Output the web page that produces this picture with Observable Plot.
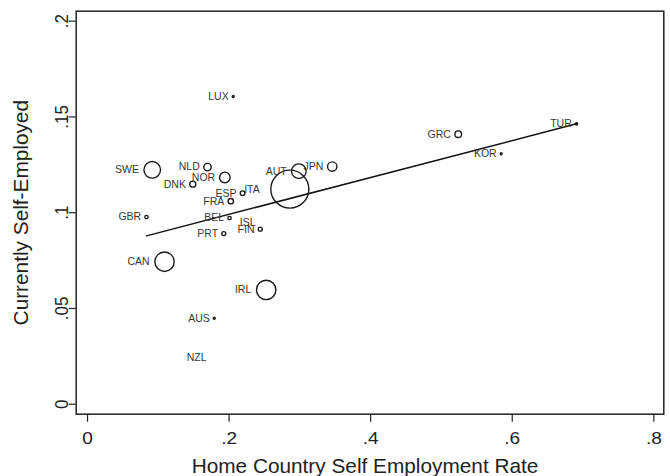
<!DOCTYPE html>
<html>
<head>
<meta charset="utf-8">
<script src="https://cdn.jsdelivr.net/npm/d3@7"></script>
<script src="https://cdn.jsdelivr.net/npm/@observablehq/plot@0.6"></script>
<style>
  html, body { margin: 0; padding: 0; background: #fff; }
  svg { display: block; }
</style>
</head>
<body>
<div id="chart"></div>
<script>
// ---- data ----
const countries = ["LUX","SWE","NLD","NOR","DNK","ESP","ITA","FRA","GBR","BEL","ISL","FIN","PRT","CAN","IRL","AUS","NZL","GRC","KOR","TUR","","AUT","JPN"];
const homeRate  = [0.2058,0.0914,0.1695,0.1940,0.1487,0.2190,0.2166,0.2024,0.0833,0.2006,0.2420,0.2440,0.1925,0.1088,0.2524,0.1790,0.1728,0.5237,0.5844,0.6908,0.2858,0.2985,0.3457];
const selfEmp   = [0.1607,0.1224,0.1238,0.1184,0.1149,0.1102,0.1122,0.1060,0.0977,0.0972,0.0950,0.0914,0.0891,0.0744,0.0597,0.0449,0.0244,0.1410,0.1308,0.1464,0.1123,0.1217,0.1241];
const weight    = [1,69,14,28,9,5.3,0,7.3,2.9,2.9,0,4,4,94,94,1,0,11,1,1.4,361,53,22];
const labelPos  = [9,9,9,9,9,9,3,9,9,9,9,9,9,9,9,9,9,9,9,9,9,9,9];

const fitX = [0.0833, 0.6908];
const fitY = [0.0879, 0.1464];

const xTicks = [0, 0.2, 0.4, 0.6, 0.8];
const yTicks = [0, 0.05, 0.1, 0.15, 0.2];
const xTitle = "Home Country Self Employment Rate";
const yTitle = "Currently Self-Employed";

// ---- build ----
const rows = countries.map((c, i) => ({c, x: homeRate[i], y: selfEmp[i], w: weight[i], pos: labelPos[i]}));
const fitRows = fitX.map((x, i) => ({x, y: fitY[i]}));
const fmt = d => d === 0 ? "0" : String(d).replace(/^0/, "");
const ink = "#222";

const labelMarks = rows.filter(d => d.c).map(d => {
  const r = Math.sqrt(d.w);
  const gap = 1.2 * r + 3.3;
  return Plot.text([d], {
    x: "x", y: "y", text: "c",
    dx: d.pos === 3 ? gap : -gap,
    textAnchor: d.pos === 3 ? "start" : "end",
    fontSize: 10.5, fill: "#383838"
  });
});

const chart = Plot.plot({
  width: 670, height: 476,
  marginLeft: 75.7, marginRight: 6.7, marginTop: 10.7, marginBottom: 62.3,
  style: {fontFamily: "'Liberation Sans', Arial, Helvetica, sans-serif", background: "#fff", color: ink},
  x: {domain: [-0.016, 0.8141]},
  y: {domain: [-0.0052, 0.2052]},
  r: {type: "sqrt", domain: [0, 400], range: [0, 20]},
  marks: [
    Plot.frame({stroke: ink, strokeWidth: 1.5}),
    Plot.axisX(xTicks, {tickFormat: fmt, tickSize: 8, tickPadding: 9.5, fontSize: 17, stroke: ink, strokeWidth: 1.2, fill: ink, label: null}),
    Plot.axisY(yTicks, {tickFormat: fmt, tickSize: 7, tickPadding: 1, tickRotate: -90, fontSize: 17, stroke: ink, strokeWidth: 1.2, fill: ink, label: null}),
    Plot.text([xTitle], {text: d => d, frameAnchor: "bottom", dx: -5, dy: 44, textAnchor: "middle", lineAnchor: "top", fontSize: 20.8, fill: ink}),
    Plot.text([yTitle], {text: d => d, frameAnchor: "left", rotate: -90, dx: -62.5, textAnchor: "middle", lineAnchor: "top", fontSize: 20.8, fill: ink}),
    Plot.line(fitRows, {x: "x", y: "y", stroke: "#111", strokeWidth: 1.5}),
    Plot.dot(rows, {x: "x", y: "y", r: "w", stroke: "#1a1a1a", strokeWidth: 1.4, fill: "none"}),
    ...labelMarks
  ]
});
document.getElementById("chart").appendChild(chart);

// slight horizontal widening of axis tick text, as in the reference
const sx = 1.12;
chart.querySelectorAll('g[aria-label="x-axis tick label"] text').forEach(t => {
  t.setAttribute("transform", (t.getAttribute("transform") || "") + ` scale(${sx},1)`);
});
chart.querySelectorAll('g[aria-label="y-axis tick label"] text').forEach(t => {
  t.setAttribute("transform", (t.getAttribute("transform") || "") + ` scale(1,${sx})`);
});
</script>
</body>
</html>
